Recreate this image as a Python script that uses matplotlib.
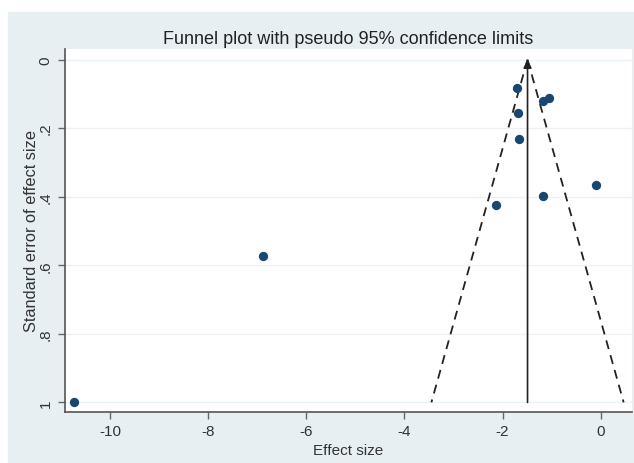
import matplotlib.pyplot as plt
from matplotlib.patches import Rectangle

plt.rcParams["font.family"] = ["Liberation Sans", "DejaVu Sans"]

# study estimates
effect_size = [-1.70, -1.68, -1.66, -1.17, -1.06, -2.13, -1.18, -0.10, -6.88, -10.73]
std_error = [0.083, 0.156, 0.231, 0.121, 0.111, 0.423, 0.398, 0.366, 0.573, 1.0]
pooled_effect = -1.49
z95 = 1.96

x_ticks = [-10, -8, -6, -4, -2, 0]
y_ticks = [0, 0.2, 0.4, 0.6, 0.8, 1]
y_tick_labels = ["0", ".2", ".4", ".6", ".8", "1"]

BG = "#e7eff2"
NAVY = "#1a476f"


def main():
    fig = plt.figure(figsize=(6.34, 4.64), dpi=100, facecolor="white")
    fig.patches.append(Rectangle((8 / 634, 0), 1, (464 - 13) / 464,
                                 transform=fig.transFigure, color=BG, zorder=-10))
    ax = fig.add_axes([65 / 634, 51 / 464, (632 - 65) / 634, (413 - 50) / 464])
    ax.set_facecolor("white")

    max_se = max(std_error)
    ax.plot([pooled_effect, pooled_effect - z95 * max_se], [0, max_se],
            color="#222222", ls=(0, (5, 3.5)), lw=1.3)
    ax.plot([pooled_effect, pooled_effect + z95 * max_se], [0, max_se],
            color="#222222", ls=(0, (5, 3.5)), lw=1.3)
    ax.annotate("", xy=(pooled_effect, 0), xytext=(pooled_effect, max_se),
                arrowprops=dict(arrowstyle="-|>", color="#222222", lw=1.2,
                                mutation_scale=12, shrinkA=0, shrinkB=0))

    ax.scatter(effect_size, std_error, s=45, color=NAVY, zorder=3, linewidths=0)

    ax.set_xlim(-10.92, 0.64)
    ax.set_ylim(1.028, -0.031)
    ax.set_xticks(x_ticks)
    ax.set_xticklabels([str(t) for t in x_ticks])
    ax.set_yticks(y_ticks)
    ax.set_yticklabels(y_tick_labels, rotation=90, va="center")
    ax.grid(axis="y", color="#edf1f3", lw=1)
    ax.set_axisbelow(True)

    for side in ("top", "right"):
        ax.spines[side].set_visible(False)
    for side in ("left", "bottom"):
        ax.spines[side].set_color("#555555")
        ax.spines[side].set_linewidth(1.2)
    ax.tick_params(length=5, width=1, color="#666666", labelsize=11,
                   labelcolor="#333333", pad=4)

    ax.set_xlabel("Effect size", fontsize=11, color="#333333", labelpad=3)
    ax.set_ylabel("Standard error of effect size", fontsize=11.8,
                  color="#333333", labelpad=0)
    ax.yaxis.set_label_coords(-(65 - 39) / 567, 0.5)
    fig.text(348 / 634, 1 - 40 / 464, "Funnel plot with pseudo 95% confidence limits",
             ha="center", va="center", fontsize=13, color="#222222")

    fig.savefig("out.png", dpi=100, facecolor=fig.get_facecolor())


if __name__ == "__main__":
    main()
